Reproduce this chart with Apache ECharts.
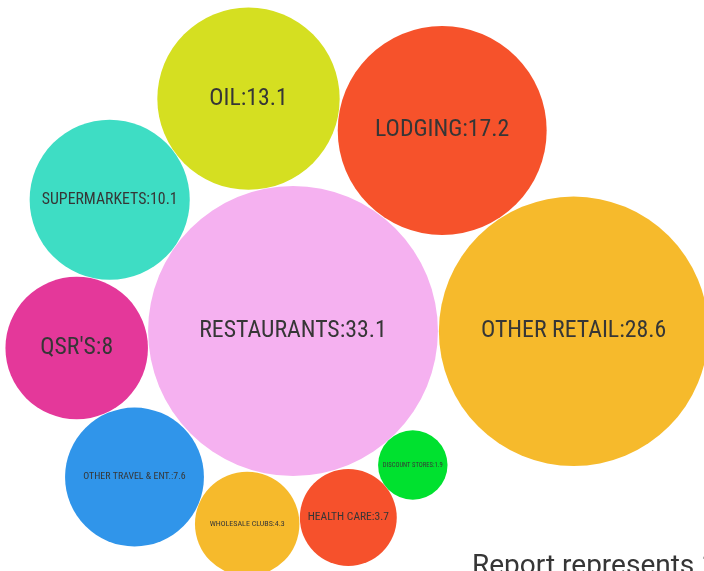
<!DOCTYPE html>
<html>
<head>
<meta charset="utf-8">
<script src="https://cdn.jsdelivr.net/npm/echarts@6/dist/echarts.min.js"></script>
<style>
html,body{margin:0;padding:0;background:#fff;}
#chart{width:704px;height:571px;}
</style>
</head>
<body>
<div id="chart"></div>
<script>
// ---- data ----
const categories = ['RESTAURANTS', 'OTHER RETAIL', 'LODGING', 'OIL', 'SUPERMARKETS', "QSR'S",
  'OTHER TRAVEL & ENT.', 'WHOLESALE CLUBS', 'HEALTH CARE', 'DISCOUNT STORES'];
const values = [33.1, 28.6, 17.2, 13.1, 10.1, 8, 7.6, 4.3, 3.7, 1.9];

// ---- layout (packed bubble centres, in pixel space of the plot) ----
const layoutX = [293, 573.6, 442.2, 248.5, 109.7, 76.7, 134.5, 247.2, 348.3, 412.8];
const layoutY = [331, 331.3, 130.5, 98.7, 199.7, 348, 477, 523.9, 517.5, 465];

// ---- styles ----
const colors = ['#F5B1F0', '#F6BA2C', '#F6522B', '#D5DF21', '#3EDDC4', '#E4389A',
  '#3095EA', '#F6BA2C', '#F6512C', '#00E12F'];
const labelSizes = [23.8, 23.8, 23.8, 23.7, 15.8, 23.7, 9.9, 8, 11.5, 6.6];
const radiusScale = 25.19; // radius = k * sqrt(value)

const FONT = "'Roboto Condensed', 'Liberation Sans Narrow', 'DejaVu Sans Condensed', 'Arial Narrow', sans-serif";

const seriesData = categories.map((name, i) => ({
  name: name,
  value: [layoutX[i], layoutY[i], values[i]],
  itemStyle: { color: colors[i], opacity: 1 },
  label: { fontSize: labelSizes[i] }
}));

const chart = echarts.init(document.getElementById('chart'), null, { renderer: 'canvas' });
chart.setOption({
  animation: false,
  grid: { left: 0, right: 0, top: 0, bottom: 0 },
  xAxis: { type: 'value', min: 0, max: 704, show: false },
  yAxis: { type: 'value', min: 0, max: 571, inverse: true, show: false },
  series: [{
    type: 'scatter',
    clip: false,
    symbol: 'circle',
    symbolSize: v => 2 * radiusScale * Math.sqrt(v[2]),
    data: seriesData,
    label: {
      show: true,
      position: 'inside',
      color: '#363636',
      fontFamily: FONT,
      fontWeight: 'normal',
      formatter: p => p.name + ':' + p.value[2]
    },
    emphasis: { disabled: true }
  }],
  graphic: [{
    type: 'text',
    left: 472,
    top: 553,
    style: {
      text: 'Report represents 100% of total spend',
      fill: '#363636',
      font: "28px Roboto, 'Noto Sans', sans-serif"
    }
  }]
});
</script>
</body>
</html>
